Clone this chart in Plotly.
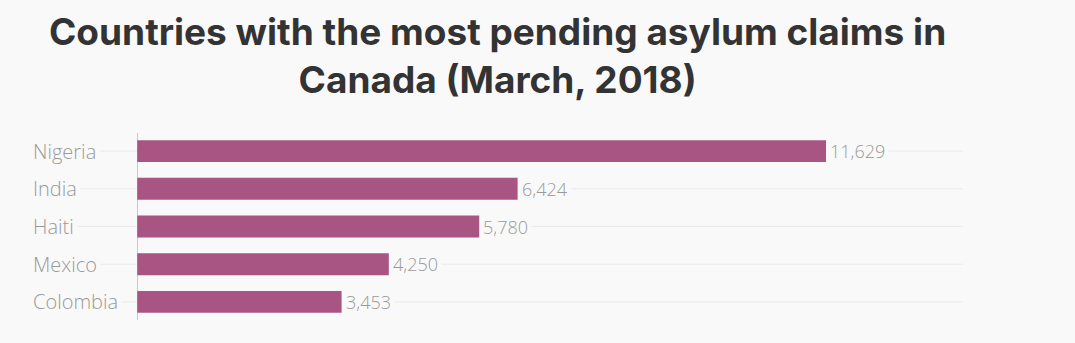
import plotly.graph_objects as go

countries = ["Nigeria", "India", "Haiti", "Mexico", "Colombia"]
claims = [11629, 6424, 5780, 4250, 3453]
title_lines = ["Countries with the most pending asylum claims in", "Canada (March, 2018)"]

BG = "#f9f9f9"
BAR = "#a85584"
LABEL = "#999999"
GRID = "#ebebeb"

L, R, T, B = 137, 112, 133, 23
W, H = 1075, 343
pw = W - L - R
ph = H - T - B
label_x = (29 - L) / pw

fig = go.Figure(go.Bar(
    x=claims, y=countries, orientation="h",
    marker=dict(color=BAR, line=dict(width=0)),
    width=0.58, hoverinfo="skip",
))

shapes = []
annotations = []
cat_font = dict(family="Open Sans", size=20, color=LABEL, weight=300)
val_font = dict(family="Open Sans", size=18, color=LABEL, weight=300)
for c, v in zip(countries, claims):
    shapes.append(dict(type="line", xref="paper", yref="y", x0=label_x, x1=1,
                       y0=c, y1=c, line=dict(color=GRID, width=1), layer="below"))
    annotations.append(dict(text=c, xref="paper", yref="y", x=label_x, y=c,
                            xanchor="left", yanchor="middle", showarrow=False,
                            bgcolor=BG, borderpad=3, font=cat_font))
    annotations.append(dict(text=f"{v:,}", xref="x", yref="y", x=v, y=c,
                            xanchor="left", yanchor="middle", showarrow=False,
                            xshift=0, bgcolor=BG, borderpad=3, font=val_font))

# title
annotations.append(dict(text="<br>".join(title_lines), xref="paper", yref="paper",
                        x=(497 - L) / pw, y=1 + (T - 7) / ph, xanchor="center", yanchor="top",
                        showarrow=False, align="center",
                        font=dict(family="Inter", size=37, color="#333333", weight=700)))

# vertical axis line
shapes.append(dict(type="line", xref="x", yref="paper", x0=0, x1=0, y0=0, y1=1,
                   line=dict(color="#999999", width=1), layer="above"))

fig.update_layout(
    width=W, height=H,
    margin=dict(l=L, r=R, t=T, b=B),
    paper_bgcolor=BG, plot_bgcolor=BG,
    xaxis=dict(range=[0, 13941], showgrid=False, zeroline=False, showticklabels=False,
               ticks="", fixedrange=True),
    yaxis=dict(autorange=False, range=[4.48, -0.48], showgrid=False, zeroline=False,
               showticklabels=False, ticks="", fixedrange=True,
               categoryorder="array", categoryarray=countries),
    shapes=shapes, annotations=annotations,
    showlegend=False,
)

fig.write_html("out.html", config={"displayModeBar": False})
